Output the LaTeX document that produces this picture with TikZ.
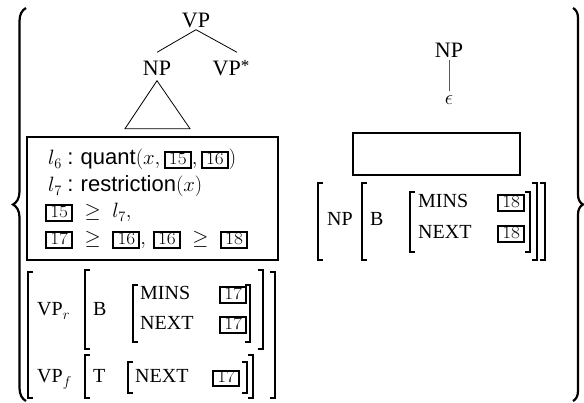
\documentclass[tikz,border=0pt]{standalone}
\usepackage[no-math]{fontspec}
\setmainfont{Liberation Serif}
\newfontfamily\hv{Liberation Sans}
\usetikzlibrary{decorations.pathreplacing,calc}
\newcommand{\bx}[1]{{\setlength{\fboxrule}{2pt}\setlength{\fboxsep}{0pt}\fbox{\makebox[24pt]{\rule[-2pt]{0pt}{13.5pt}\fontsize{17.5}{17.5}\selectfont\scalebox{1.12}[1]{$\mathrm{#1}$}}}}}
\begin{document}
\begin{tikzpicture}[x=1pt,y=-1pt,
  tree/.style={font=\fontsize{22}{26}\selectfont, inner sep=2pt, text height=15pt, text depth=0pt},
  sem/.style={font=\fontsize{22}{26}\selectfont, anchor=base west, inner sep=0pt},
  avm/.style={font=\fontsize{20}{24}\selectfont, anchor=base west, inner sep=0pt},
  semibox/.style={draw, line width=2.4pt, inner sep=0pt},
  brk/.style={line width=1.1pt},
  bigbrace/.style={decorate, line width=2.2pt},
  edge/.style={line width=0.8pt}]
\useasboundingbox (0,0) rectangle (584,403);

% left tree
\node[tree] (vp) at (196,20) {VP};
\node[tree] (np) at (157,68) {NP};
\node[tree] (vps) at (231,68) {VP{\fontsize{17}{17}\selectfont\raisebox{4pt}{*}}};
\draw[edge] (vp.south) -- ([yshift=6pt]np.north);
\draw[edge] (vp.south) -- ([xshift=6pt,yshift=6pt]vps.north);
\draw[edge] ([yshift=-3pt]np.south) -- ++(-32,48) -- ++(65,0) -- cycle;

% left semantics box
\node[semibox, minimum width=251pt, minimum height=123pt] (box1) at (152.5,198.5) {};
\node[sem] (s1) at (48,165) {$l_6$ {\hv :} {\hv quant}$(x,\bx{15},\bx{16})$};
\node[sem] (s2) at (48,192) {$l_7$ {\hv :} {\hv restriction}$(x)$};
\node[sem] (s3) at (45,218) {$\bx{15}\;\geq\;l_7,$};
\node[sem] (s4) at (45,245) {$\bx{17}\;\geq\;\bx{16},\,\bx{16}\;\geq\;\bx{18}$};

% left AVM
\draw[brk] (33,272) -- (28,272) -- (28,398) -- (33,398);
\draw[brk] (270,272) -- (275,272) -- (275,398) -- (270,398);
\node[avm] (vpr) at (37,316) {VP$_r$};
\draw[brk] (90,270) -- (85,270) -- (85,349) -- (90,349);
\draw[brk] (258,270) -- (263,270) -- (263,349) -- (258,349);
\node[avm] (b1) at (93,316) {B};
\draw[brk] (138,285) -- (133,285) -- (133,342) -- (138,342);
\draw[brk] (245,285) -- (250,285) -- (250,342) -- (245,342);
\node[avm] (mins1) at (140,300) {MINS};
\node[avm] (next1) at (140,330) {NEXT};
\node[avm] (m17) at (219,300) {\bx{17}};
\node[avm] (n17) at (219,330) {\bx{17}};
\node[avm] (vpf) at (37,383) {VP$_f$};
\draw[brk] (90,355) -- (85,355) -- (85,398) -- (90,398);
\draw[brk] (248,355) -- (253,355) -- (253,398) -- (248,398);
\node[avm] (t1) at (93,383) {T};
\draw[brk] (133,362) -- (128,362) -- (128,393) -- (133,393);
\draw[brk] (242,362) -- (247,362) -- (247,393) -- (242,393);
\node[avm] (next2) at (135,383) {NEXT};
\node[avm] (f17) at (212,383) {\bx{17}};

% right tree
\node[tree] (np2) at (449,50) {NP};
\node[font=\fontsize{20}{24}\selectfont, inner sep=4pt] (eps) at (449,100) {$\epsilon$};
\draw[edge, gray!70!black] (np2.south) -- (eps.north);

% right semantics box
\node[semibox, minimum width=167pt, minimum height=42pt] (box2) at (436.5,154) {};

% right AVM
\draw[brk] (323,183) -- (318,183) -- (318,260) -- (323,260);
\draw[brk] (540,183) -- (545,183) -- (545,260) -- (540,260);
\node[avm] (np3) at (327,226) {NP};
\draw[brk] (367,183) -- (362,183) -- (362,260) -- (367,260);
\draw[brk] (532,183) -- (537,183) -- (537,260) -- (532,260);
\node[avm] (b2) at (370,226) {B};
\draw[brk] (415,192) -- (410,192) -- (410,252) -- (415,252);
\draw[brk] (525,192) -- (530,192) -- (530,252) -- (525,252);
\node[avm] (mins2) at (418,208) {MINS};
\node[avm] (next3) at (418,239) {NEXT};
\node[avm] (m18) at (497,208) {\bx{18}};
\node[avm] (n18) at (497,239) {\bx{18}};

% big braces
\draw[bigbrace, decoration={brace, amplitude=13pt}] (26,401) -- (26,8);
\draw[bigbrace, decoration={brace, amplitude=10pt}] (573,8) -- (573,401);
\end{tikzpicture}
\end{document}
